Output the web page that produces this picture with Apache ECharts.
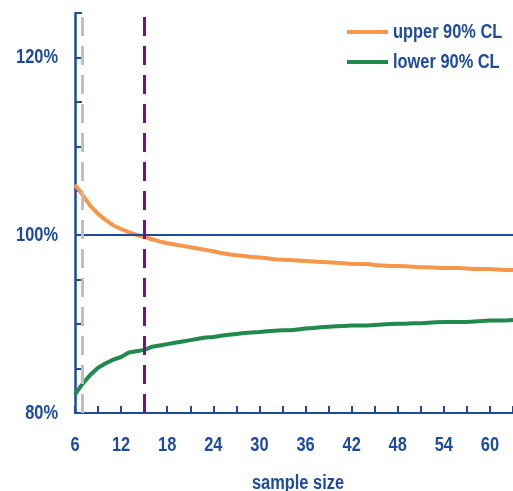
<!DOCTYPE html>
<html>
<head>
<meta charset="utf-8">
<script src="https://cdn.jsdelivr.net/npm/echarts@6/dist/echarts.min.js"></script>
<style>
html,body{margin:0;padding:0;background:#fff;}
#c{width:513px;height:491px;}
</style>
</head>
<body>
<div id="c"></div>
<script>
// sample sizes
var sampleSize = [6,7,8,9,10,11,12,13,14,15,16,17,18,19,20,21,22,23,24,25,26,27,28,29,30,31,32,33,34,35,36,37,38,39,40,41,42,43,44,45,46,47,48,49,50,51,52,53,54,55,56,57,58,59,60,61,62,63];
// upper 90% CL (%)
var upperCL = [105.7,104.5,103.3,102.4,101.7,101.1,100.7,100.35,100.05,99.8,99.55,99.3,99.1,98.95,98.8,98.65,98.5,98.35,98.2,98.0,97.85,97.75,97.65,97.55,97.5,97.4,97.3,97.25,97.2,97.15,97.1,97.05,97.0,96.95,96.9,96.85,96.75,96.75,96.75,96.65,96.6,96.55,96.55,96.5,96.45,96.4,96.4,96.35,96.3,96.3,96.3,96.25,96.2,96.2,96.2,96.15,96.1,96.1];
// lower 90% CL (%)
var lowerCL = [82.1,83.3,84.3,85.1,85.6,86.0,86.3,86.8,86.95,87.1,87.45,87.6,87.75,87.9,88.05,88.2,88.35,88.5,88.55,88.7,88.8,88.9,89.0,89.05,89.1,89.2,89.25,89.3,89.3,89.4,89.5,89.55,89.65,89.7,89.75,89.8,89.85,89.85,89.85,89.9,89.95,90.0,90.05,90.05,90.1,90.1,90.15,90.2,90.25,90.25,90.25,90.25,90.3,90.35,90.4,90.4,90.4,90.45];
var seriesNames = ['upper 90% CL','lower 90% CL'];
var xTickLabels = [6,12,18,24,30,36,42,48,54,60];
var yTickLabels = [80,100,120];
var xAxisTitle = 'sample size';
var refLevel = 100;
var markerGray = 7;
var markerPurple = 15;
var xMin = 6, xMax = 63, xStep = 3;
var yMin = 80, yMax = 125, yStep = 5;

var BLUE = '#1D4B9D';
var ORANGE = '#F7964A';
var GREEN = '#1F8A4C';
var FONT = "'Liberation Sans',Arial,sans-serif";
var NARROW = 0.82;

function pairs(ys){ return sampleSize.map(function(x,i){ return [x, ys[i]]; }); }

var chart = echarts.init(document.getElementById('c'), null, {renderer:'canvas'});
chart.setOption({
  animation:false,
  backgroundColor:'#fff',
  grid:{left:75, right:0, top:13, bottom:78, containLabel:false, outerBoundsMode:'none'},
  xAxis:{
    type:'value', min:xMin, max:xMax, interval:xStep,
    axisLine:{show:true, lineStyle:{color:BLUE, width:2}},
    axisTick:{show:true, inside:true, length:7, lineStyle:{color:BLUE, width:2}},
    axisLabel:{show:false},
    splitLine:{show:false}
  },
  yAxis:{
    type:'value', min:yMin, max:yMax, interval:yStep,
    axisLine:{show:true, lineStyle:{color:BLUE, width:2.5}},
    axisTick:{show:true, inside:true, length:7, lineStyle:{color:BLUE, width:2}},
    axisLabel:{show:false},
    splitLine:{show:false}
  },
  series:[
    {
      name:seriesNames[0], type:'line', data:pairs(upperCL),
      symbol:'none', showSymbol:false, color:ORANGE,
      lineStyle:{width:4, color:ORANGE},
      z:3,
      markLine:{
        silent:true, symbol:['none','none'], label:{show:false},
        data:[
          {yAxis:refLevel, lineStyle:{color:BLUE, width:2, type:'solid'}},
          {xAxis:markerGray, lineStyle:{color:'#BFBFBF', width:3, type:[19,10]}},
          {xAxis:markerPurple, lineStyle:{color:'#7E0F80', width:3, type:[19,10]}}
        ]
      }
    },
    {
      name:seriesNames[1], type:'line', data:pairs(lowerCL),
      symbol:'none', showSymbol:false, color:GREEN,
      lineStyle:{width:4, color:GREEN},
      z:3
    }
  ]
});

// Narrow bold text (Arial Narrow look) placed through the chart's own scales
function txt(x, y, s, align){
  return {
    type:'text', x:x, y:y, scaleX:NARROW, originX:0, originY:0, z:10,
    style:{text:s, x:0, y:0, fill:BLUE, font:'bold 20px ' + FONT,
      align:align, verticalAlign:'middle'}
  };
}
var g = [];
var axisY = chart.convertToPixel({gridIndex:0}, [xMin, yMin]);
yTickLabels.forEach(function(v){
  var p = chart.convertToPixel({gridIndex:0}, [xMin, v]);
  g.push(txt(p[0] - 17, p[1], v + '%', 'right'));
});
xTickLabels.forEach(function(v){
  var p = chart.convertToPixel({gridIndex:0}, [v, yMin]);
  g.push(txt(p[0], p[1] + 32, String(v), 'center'));
});
var mid = chart.convertToPixel({gridIndex:0}, [(xMin + xMax) / 2, yMin]);
g.push(txt(mid[0] + 4, axisY[1] + 70, xAxisTitle, 'center'));
// legend
var legendColors = [ORANGE, GREEN];
seriesNames.forEach(function(n, i){
  var ly = 32 + i * 30;
  g.push({type:'line', z:10, shape:{x1:347, y1:ly, x2:388, y2:ly},
    style:{stroke:legendColors[i], lineWidth:4}});
  g.push(txt(393, ly, n, 'left'));
});
chart.setOption({graphic:g});
</script>
</body>
</html>
